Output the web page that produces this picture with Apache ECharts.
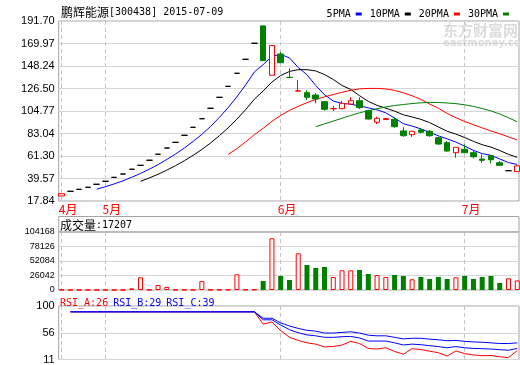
<!DOCTYPE html>
<html><head><meta charset="utf-8">
<script src="https://cdn.jsdelivr.net/npm/echarts@6/dist/echarts.min.js"></script>
<style>html,body{margin:0;padding:0;background:#fff}#c{width:520px;height:365px}</style>
</head><body><div id="c"></div>
<script>
// ---------- data ----------
const stockName = '鹏辉能源';
const stockCode = '[300438]';
const quoteDate = '2015-07-09';
const maNames = ['5PMA', '10PMA', '20PMA', '30PMA'];
const rsiNames = ['RSI_A', 'RSI_B', 'RSI_C'];
const monthLabels = ['4月', '5月', '6月', '7月'];
const monthStartIdx = [0, 5, 25, 46];
const priceTicks = ['17.84', '39.57', '61.30', '83.04', '104.77', '126.50', '148.24', '169.97', '191.70'];
const volumeTicks = ['0', '26042', '52084', '78126', '104168'];
const rsiTicks = ['11', '56', '100'];

const open = [22.7, 27.2, 29.1, 31.1, 34.0, 36.9, 40.7, 43.9, 48.5, 52.3, 57.2, 63.0, 69.0, 74.5, 81.3, 89.0, 97.3, 107.4, 118.0, 128.6, 141.2, 154.7, 170.2,
  187.0, 139.3, 159.8, 137.3, 124.0, 122.5, 120.2, 113.8, 106.9, 107.0, 111.5, 114.7, 105.1, 93.9, 96.5, 96.8, 85.5, 81.9, 86.4, 85.2, 79.0, 74.2, 64.5, 67.8, 64.5, 58.4, 61.6, 54.8, 47.1, 46.2];
const close = [24.9, 27.2, 29.1, 31.1, 34.0, 36.9, 40.7, 43.9, 48.5, 52.3, 57.2, 63.0, 69.0, 74.5, 81.3, 89.0, 97.3, 107.4, 118.0, 128.6, 141.2, 154.7, 170.2,
  153.4, 168.0, 151.4, 137.1, 124.2, 118.0, 116.4, 106.4, 107.1, 112.2, 114.7, 108.0, 97.0, 97.7, 97.5, 89.6, 80.9, 85.2, 84.2, 80.9, 72.9, 66.1, 69.7, 64.5, 60.6, 57.1, 57.7, 52.3, 47.1, 51.8];
const low = [22.7, 27.2, 29.1, 31.1, 34.0, 36.9, 40.7, 43.9, 48.5, 52.3, 57.2, 63.0, 69.0, 74.5, 81.3, 89.0, 97.3, 107.4, 118.0, 128.6, 141.2, 154.7, 170.2,
  153.4, 139.3, 151.4, 137.1, 124.0, 115.4, 112.2, 105.1, 104.8, 106.5, 110.6, 106.6, 96.5, 92.2, 96.3, 88.6, 79.9, 79.7, 83.2, 79.9, 71.9, 65.5, 59.7, 63.9, 59.1, 54.8, 54.2, 52.0, 47.1, 46.2];
const high = [24.9, 27.2, 29.1, 31.1, 34.0, 36.9, 40.7, 43.9, 48.5, 52.3, 57.2, 63.0, 69.0, 74.5, 81.3, 89.0, 97.3, 107.4, 118.0, 128.6, 141.2, 154.7, 170.2,
  187.0, 168.5, 161.8, 146.0, 134.6, 125.1, 121.9, 114.2, 109.6, 114.7, 118.0, 118.0, 106.0, 99.3, 97.8, 98.3, 89.0, 85.2, 88.1, 86.4, 79.9, 75.8, 69.7, 72.6, 66.4, 62.9, 61.9, 56.5, 47.1, 51.8];
const volume = [320, 110, 130, 150, 120, 160, 140, 180, 3000, 22800, 300, 9000, 5500, 400, 350, 420, 15900, 500, 450, 600, 28200, 700, 900,
  16200, 92850, 25140, 17960, 65900, 44900, 39500, 41300, 23350, 35380, 35380, 35920, 28740, 26940, 23350, 26940, 25140, 19210, 23350, 19760, 23350, 19760, 22800, 25140, 19760, 23350, 25140, 12570, 21010, 17207];

const ma5 = [null, null, null, null, 29.26, 31.66, 34.36, 37.32, 40.80, 44.46, 48.52, 52.98, 58.00, 63.20, 69.00, 75.36, 82.22, 89.90, 98.60, 108.06, 118.50, 129.98, 142.54,
  149.62, 157.50, 159.54, 156.02, 146.82, 139.74, 129.42, 120.42, 114.42, 112.02, 111.36, 109.68, 107.80, 105.92, 102.98, 97.96, 92.54, 90.18, 87.48, 84.16, 80.82, 77.86, 74.76, 70.82, 66.76, 63.60, 61.92, 58.44, 54.96, 53.20];
const ma10 = [null, null, null, null, null, null, null, null, null, 36.86, 40.09, 43.67, 47.66, 52.00, 56.73, 61.94, 67.60, 73.95, 80.90, 88.53, 96.93, 106.10, 116.22,
  124.11, 132.78, 139.02, 143.00, 144.68, 144.68, 143.46, 139.98, 135.22, 129.42, 125.55, 119.55, 114.11, 110.17, 107.50, 104.66, 101.11, 98.99, 96.70, 93.57, 89.39, 85.20, 82.47, 79.15, 75.46, 72.21, 69.89, 66.60, 62.89, 59.98];
const ma20 = [null, null, null, null, null, null, null, null, null, null, null, null, null, null, null, null, null, null, null, 62.70, 68.51, 74.89, 81.94,
  88.06, 94.76, 100.48, 105.30, 109.32, 112.79, 116.00, 118.46, 120.66, 122.82, 124.83, 126.17, 126.57, 126.59, 126.09, 124.67, 122.29, 119.49, 115.96, 111.50, 107.47, 102.38, 98.29, 94.66, 91.48, 88.44, 85.50, 82.80, 79.80, 76.78];
const ma30 = [null, null, null, null, null, null, null, null, null, null, null, null, null, null, null, null, null, null, null, null, null, null, null,
  null, null, null, null, null, null, 89.62, 92.33, 95.00, 97.77, 100.55, 103.02, 105.02, 106.92, 108.71, 110.08, 111.03, 111.97, 112.67, 113.07, 113.02, 112.51, 111.87, 110.77, 109.21, 107.18, 104.82, 101.86, 98.27, 94.32];

const rsiA = [null, 90.3, 90.3, 90.3, 90.3, 90.3, 90.3, 90.3, 90.3, 90.3, 90.3, 90.3, 90.3, 90.3, 90.3, 90.3, 90.3, 90.3, 90.3, 90.3, 90.3, 90.3, 90.3,
  69.8, 73.4, 59.1, 47.9, 42.8, 38.7, 36.6, 32.0, 32.6, 35.1, 41.2, 37.6, 29.4, 28.4, 30.5, 24.4, 19.8, 29.0, 27.5, 24.8, 22.3, 16.7, 25.3, 20.7, 18.6, 17.4, 17.6, 15.6, 14.1, 25.9];
const rsiB = [null, 90.3, 90.3, 90.3, 90.3, 90.3, 90.3, 90.3, 90.3, 90.3, 90.3, 90.3, 90.3, 90.3, 90.3, 90.3, 90.3, 90.3, 90.3, 90.3, 90.3, 90.3, 90.3,
  77.0, 77.0, 68.3, 60.6, 55.5, 51.9, 50.4, 47.9, 47.9, 48.9, 49.4, 46.8, 41.7, 41.7, 41.7, 38.7, 35.1, 36.6, 35.6, 34.0, 32.5, 30.5, 32.5, 30.5, 29.4, 29.0, 28.4, 27.4, 26.4, 29.4];
const rsiC = [null, 90.3, 90.3, 90.3, 90.3, 90.3, 90.3, 90.3, 90.3, 90.3, 90.3, 90.3, 90.3, 90.3, 90.3, 90.3, 90.3, 90.3, 90.3, 90.3, 90.3, 90.3, 90.3,
  79.6, 79.6, 71.9, 66.8, 62.7, 59.6, 58.1, 55.0, 55.0, 56.0, 57.1, 55.0, 51.4, 50.4, 50.4, 47.9, 45.3, 46.3, 46.3, 44.8, 43.8, 42.2, 42.7, 41.2, 40.2, 39.7, 38.7, 37.6, 37.6, 38.7];

// ---------- styles ----------
const RED = '#ff0000', GREEN = '#008000', BLUE = '#0000ff', BLACK = '#000000';
const FRAME = '#a4a4a4', GRIDC = '#d6d6d6', DASHC = '#c4c4c4';
const NUMFONT = 'Liberation Sans';
const MONO = 'DejaVu Sans Mono';
const CJK = 'Noto Sans CJK SC';
const N = close.length;
const X_MIN = -0.34, X_MAX = 52.2;
const GL = 58.7, GR = 1;

function nearestLabel(list, v) {
  let best = list[0], bd = Infinity;
  list.forEach(s => { const d = Math.abs(parseFloat(s) - v); if (d < bd) { bd = d; best = s; } });
  return best;
}
function xAxis(gi, withLabels) {
  return {
    type: 'value', gridIndex: gi, min: X_MIN, max: X_MAX,
    axisLine: { show: false },
    axisTick: { show: false, customValues: monthStartIdx },
    splitLine: { show: true, lineStyle: { color: DASHC, type: [4, 3], width: 1 } },
    axisLabel: withLabels ? {
      customValues: monthStartIdx.map(v => v - 0.33),
      formatter: v => monthLabels[monthStartIdx.indexOf(Math.round(v + 0.33))],
      align: 'left', color: RED, fontFamily: CJK, fontSize: 12, margin: 2
    } : { show: false }
  };
}
function lineData(arr) {
  const out = [];
  arr.forEach((v, i) => { if (v != null) out.push([i, v]); });
  return out;
}
const flatStyle = { color: BLACK, color0: BLACK, borderColor: BLACK, borderColor0: BLACK, borderColorDoji: BLACK };
const candleData = close.map((c, i) => {
  const v = [i, open[i], c, low[i], high[i]];
  const flat = open[i] === c && low[i] === c && high[i] === c;
  return flat ? { value: v, itemStyle: flatStyle } : v;
});
const volData = volume.map((v, i) => ({
  value: [i, v],
  itemStyle: close[i] >= open[i]
    ? { color: '#ffffff', borderColor: RED, borderWidth: 1 }
    : { color: GREEN, borderColor: GREEN, borderWidth: 0 }
}));
const maColors = [BLUE, BLACK, RED, GREEN];
const maSeries = [ma5, ma10, ma20, ma30].map((arr, k) => ({
  name: maNames[k], type: 'line', xAxisIndex: 0, yAxisIndex: 0,
  data: lineData(arr), showSymbol: false, symbol: 'none', silent: true,
  lineStyle: { width: 1, color: maColors[k] }, itemStyle: { color: maColors[k] }, z: 3
}));
const rsiColors = [RED, BLUE, BLUE];
const rsiSeries = [rsiA, rsiB, rsiC].map((arr, k) => ({
  name: rsiNames[k], type: 'line', xAxisIndex: 2, yAxisIndex: 2,
  data: lineData(arr), showSymbol: false, symbol: 'none', silent: true,
  lineStyle: { width: 1, color: rsiColors[k] }, itemStyle: { color: rsiColors[k] }
}));
const last = a => a[a.length - 1];
const txt = (family, size, color) => ({ fontFamily: family, fontSize: size, color: color, fontWeight: 'normal' });

const chart = echarts.init(document.getElementById('c'), null, { renderer: 'canvas' });
chart.setOption({
  animation: false,
  backgroundColor: '#ffffff',
  title: [
    {
      text: `{a|${stockName}}{b|${stockCode} ${quoteDate}}`, left: 61, top: 6, padding: 0,
      textStyle: { fontWeight: 'normal', rich: { a: txt(CJK, 12, BLACK), b: txt(MONO, 10, BLACK) } }
    },
    {
      text: `{a|成交量}{b|:${last(volume)}}`, left: 60, top: 219, padding: 0,
      textStyle: { fontWeight: 'normal', rich: { a: txt(CJK, 12, BLACK), b: txt(MONO, 10, BLACK) } }
    },
    {
      text: `{a|${rsiNames[0]}:${Math.round(last(rsiA))}} {b|${rsiNames[1]}:${Math.round(last(rsiB))}} {c|${rsiNames[2]}:${Math.round(last(rsiC))}}`,
      left: 60, top: 294, padding: 0,
      textStyle: { fontWeight: 'normal', rich: { a: txt(MONO, 10, RED), b: txt(MONO, 10, BLUE), c: txt(MONO, 10, BLUE) } }
    }
  ],
  legend: {
    data: maNames, right: 11, top: 9, align: 'right', icon: 'rect', itemWidth: 6, itemHeight: 3, itemGap: 8,
    selectedMode: false, padding: 0,
    textStyle: { fontFamily: MONO, fontSize: 10, color: BLACK }
  },
  graphic: [
    { type: 'text', left: 443, top: 23, z: 0, silent: true, style: { text: '东方财富网', fill: '#dcdcdc', font: 'bold 15px "Noto Sans CJK SC"' } },
    { type: 'text', left: 443, top: 38, z: 0, silent: true, style: { text: 'eastmoney.com', fill: '#dcdcdc', font: 'bold 10px "DejaVu Sans"' } },
    { type: 'rect', shape: { x: GL, y: 216.5, width: 520 - GL - GR, height: 15.5 }, silent: true, z: 1, style: { fill: 'none', stroke: FRAME, lineWidth: 1 } }
  ],
  grid: [
    { left: GL, right: GR, top: 21, height: 180, show: true, borderColor: FRAME, borderWidth: 1, backgroundColor: 'transparent' },
    { left: GL, right: GR, top: 232, height: 58, show: true, borderColor: FRAME, borderWidth: 1, backgroundColor: 'transparent' },
    { left: GL, right: GR, top: 306, height: 58, show: true, borderColor: FRAME, borderWidth: 1, backgroundColor: 'transparent' }
  ],
  xAxis: [xAxis(0, true), xAxis(1, false), xAxis(2, false)],
  yAxis: [
    {
      type: 'value', gridIndex: 0, min: 17.84, max: 191.70, interval: 21.7325,
      axisLine: { show: false }, axisTick: { show: false },
      splitLine: { lineStyle: { color: GRIDC, width: 1 } },
      axisLabel: { formatter: v => nearestLabel(priceTicks, v), fontFamily: NUMFONT, fontSize: 11, color: BLACK, margin: 4 }
    },
    {
      type: 'value', gridIndex: 1, min: 0, max: 104168, interval: 26042,
      axisLine: { show: false }, axisTick: { show: false },
      splitLine: { lineStyle: { color: GRIDC, width: 1 } },
      axisLabel: { formatter: v => nearestLabel(volumeTicks, v), fontFamily: NUMFONT, fontSize: 9, color: BLACK, margin: 4 }
    },
    {
      type: 'value', gridIndex: 2, min: 11, max: 100, interval: 44.5,
      axisLine: { show: false }, axisTick: { show: false },
      splitLine: { lineStyle: { color: GRIDC, width: 1 } },
      axisLabel: { formatter: v => nearestLabel(rsiTicks, v), fontFamily: NUMFONT, fontSize: 11, color: BLACK, margin: 4 }
    }
  ],
  series: [
    {
      name: 'K', type: 'candlestick', xAxisIndex: 0, yAxisIndex: 0,
      data: candleData, encode: { x: 0, y: [1, 2, 3, 4] }, barWidth: 6, silent: true, z: 4,
      itemStyle: { color: '#ffffff', color0: GREEN, borderColor: RED, borderColor0: GREEN, borderColorDoji: BLACK, borderWidth: 1 }
    },
    ...maSeries,
    {
      name: 'VOL', type: 'bar', xAxisIndex: 1, yAxisIndex: 1, data: volData, barWidth: 5, silent: true
    },
    ...rsiSeries
  ]
});
</script>
</body></html>
